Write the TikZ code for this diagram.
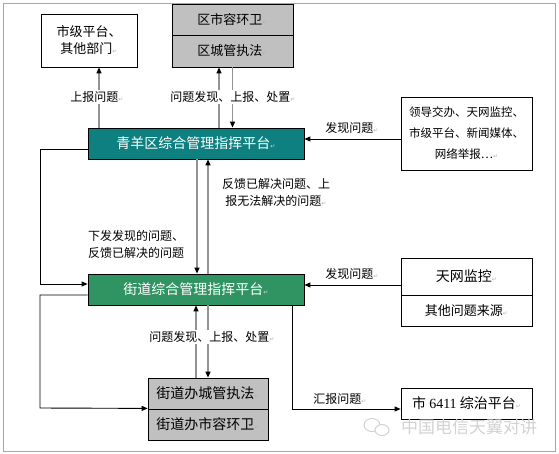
\documentclass[tikz,border=0pt]{standalone}
\usepackage{fontspec}
\setmainfont{Noto Sans CJK SC}
\newfontfamily\dejavu{DejaVu Sans}
\newfontfamily\serifnum{Liberation Serif}
\usetikzlibrary{arrows.meta,calc}
\definecolor{tealbox}{HTML}{0F8080}
\definecolor{greenbox}{HTML}{2F9462}
\definecolor{graybox}{HTML}{C0C0C0}
\newcommand{\rt}{{\dejavu\fontsize{6}{6}\selectfont\color{gray!60}↵}}
\begin{document}
\begin{tikzpicture}[x=1pt,y=-1pt,
  box/.style={draw=black, line width=0.8pt, inner sep=0pt, align=center, font=\fontsize{13}{17}\selectfont},
  gbox/.style={box, fill=graybox},
  lbl/.style={inner sep=1pt, font=\fontsize{12}{17}\selectfont},
  conn/.style={draw=black, line width=0.9pt, -{Triangle[length=6pt,width=5pt]}},
  gconn/.style={draw=gray!85, line width=1.4pt, -{Triangle[length=6pt,width=5pt,color=black]}},
  gline/.style={draw=gray!85, line width=1.4pt}]
\useasboundingbox (0,0) rectangle (559,453);
\draw[gray!70, line width=0.8pt] (3,3) rectangle (555,451);

% boxes
\node[box, minimum width=96pt, minimum height=53pt] (sjpt) at (89,40.5) {市级平台、\\其他部门\rt};
\node[gbox, minimum width=121pt, minimum height=31pt] (qsr) at (232.5,19.5) {区市容环卫\rt};
\node[gbox, minimum width=121pt, minimum height=32pt] (qcg) at (232.5,51) {区城管执法\rt};
\node[box, fill=tealbox, text=white, minimum width=216pt, minimum height=31pt, font=\fontsize{14}{17}\selectfont] (qy) at (196,143.5) {青羊区综合管理指挥平台{\dejavu\fontsize{6}{6}\selectfont\color{white!70!tealbox}↵}};
\node[box, fill=greenbox, text=white, minimum width=216pt, minimum height=31pt, font=\fontsize{14}{17}\selectfont] (jd) at (196,289.5) {街道综合管理指挥平台{\dejavu\fontsize{6}{6}\selectfont\color{white!70!greenbox}↵}};
\node[box, minimum width=131pt, minimum height=73pt, font=\fontsize{11.5}{21}\selectfont] (ld) at (466.5,133.5) {领导交办、天网监控、\\市级平台、新闻媒体、\\网络举报…\rt};
\node[box, minimum width=131pt, minimum height=37pt, font=\fontsize{14}{17}\selectfont] (tw) at (466.5,276.5) {天网监控\rt};
\node[box, minimum width=131pt, minimum height=31pt] (qt) at (466.5,310.5) {其他问题来源\rt};
\node[gbox, minimum width=120pt, minimum height=31pt, font=\fontsize{14}{17}\selectfont] (jcg) at (208,393.5) {街道办城管执法\rt};
\node[gbox, minimum width=120pt, minimum height=31pt, font=\fontsize{14}{17}\selectfont] (jsr) at (208,424.5) {街道办市容环卫\rt};
\node[box, minimum width=131pt, minimum height=31pt, font=\fontsize{14}{17}\selectfont] (sz) at (466.5,403.5) {市 {\serifnum 6411} 综治平台\rt};

% top connectors
\draw[gconn] ($(sjpt.south)+(10,61)$) -- ($(sjpt.south)+(10,0)$);
\draw[gconn] ($(qcg.south)+(-13.5,61)$) -- ($(qcg.south)+(-13.5,0)$);
\draw[gconn] (qcg.south) -- (qcg.south |- qy.north);
\node[lbl, fill=white] (l1) at (97,97) {上报问题\rt};
\node[lbl, fill=white] (l2) at (233,97) {问题发现、上报、处置\rt};

% qy <-> jd
\draw[gconn] ($(qy.south)+(1,0)$) -- ($(jd.north)+(1,0)$);
\draw[gconn] ($(jd.north)+(12,0)$) -- ($(qy.south)+(12,0)$);
\node[lbl, align=center] (l3) at (276,192) {反馈已解决问题、上\\报无法解决的问题\rt};
\node[lbl, align=left, anchor=west] (l4) at (87,244) {下发发现的问题、\\反馈已解决的问题};

% right sources
\draw[conn] ($(ld.west)+(0,5.5)$) -- ($(qy.east)+(0,-4.5)$);
\node[lbl] (l5) at (352,128) {发现问题\rt};
\draw[conn] ($(tw.west)+(0,8.5)$) -- ($(jd.east)+(0,-4.5)$);
\node[lbl] (l6) at (352,274) {发现问题\rt};

% left loops
\coordinate (c1) at (40,149);
\coordinate (c2) at (40,284);
\draw[conn] ($(qy.west)+(0,5.5)$) -- (c1) -- (c2) -- ($(jd.west)+(0,-5.5)$);
\coordinate (c3) at (40,295);
\coordinate (c4) at (40,408);
\draw[conn] ($(jd.west)+(0,5.5)$) -- (c3) -- (c4) -- ($(jcg.south west)+(0,-1)$);

% jd <-> jcg
\draw[gconn] ($(jcg.north)+(-12,0)$) -- ($(jd.south)+(0,0)$);
\draw[gconn] ($(jd.south)+(12,0)$) -- (jcg.north);
\node[lbl, fill=white] (l7) at (212,337) {问题发现、上报、处置\rt};

% jd -> sz
\coordinate (c5) at (292,409);
\draw[conn] ($(jd.south)+(96,0)$) -- (c5) -- ($(sz.west)+(0,5.5)$);
\node[lbl] (l8) at (340,399) {汇报问题\rt};

% watermark
\node[inner sep=0pt, text=gray!35, font=\fontsize{17}{17}\selectfont] (wm) at (469,427) {中国电信天翼对讲};
\draw[gray!35, line width=1pt] (372,425) ellipse (8pt and 6.5pt);
\draw[gray!35, line width=1pt, fill=white] (382,430) ellipse (7pt and 5.5pt);
\end{tikzpicture}
\end{document}
